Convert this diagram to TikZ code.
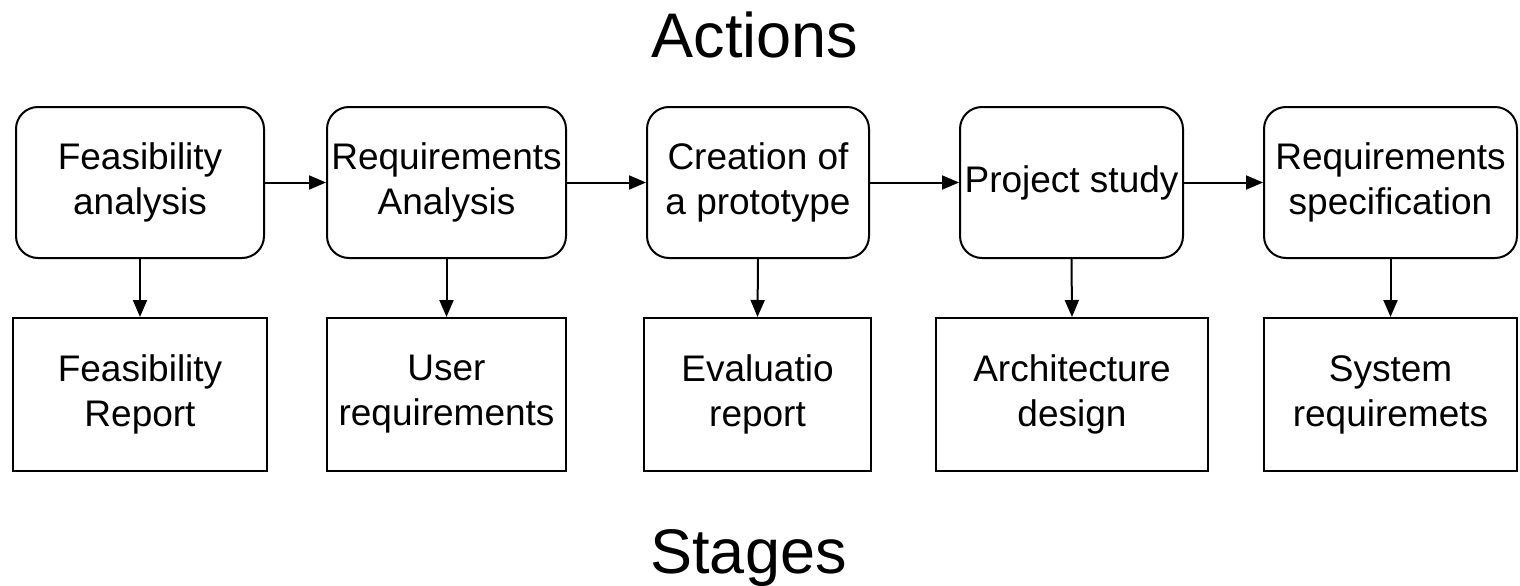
\documentclass[tikz,border=0pt]{standalone}
\usepackage{fontspec}
\setmainfont{Liberation Sans}
\usetikzlibrary{arrows.meta}
\begin{document}
\begin{tikzpicture}[x=1pt,y=-1pt,
  action/.style={draw, line width=2pt, rounded corners=22pt, minimum height=151pt, inner sep=0pt, align=center, font=\fontsize{37}{45}\selectfont},
  stagebox/.style={draw, line width=2pt, minimum height=153pt, inner sep=0pt, align=center, font=\fontsize{37}{45}\selectfont},
  arr/.style={line width=2pt, -{Triangle[length=17pt,width=14pt]}},
  titletext/.style={anchor=base, inner sep=0pt, font=\fontsize{63}{70}\selectfont}]
\useasboundingbox (0,0) rectangle (1520,586);
\node[titletext] (actions) at (755,58) {Actions};
\node[titletext] (stages) at (748.5,573) {Stages};

\node[action, minimum width=248pt] (a1) at (140,182.5) {Feasibility\\analysis};
\node[action, minimum width=239pt] (a2) at (446.5,182.5) {Requirements\\Analysis};
\node[action, minimum width=222pt] (a3) at (758,182.5) {Creation of\\a prototype};
\node[action, minimum width=223pt] (a4) at (1071.5,182.5) {Project study};
\node[action, minimum width=253pt] (a5) at (1390.5,182.5) {Requirements\\specification};

\node[stagebox, minimum width=254pt] (s1) at (140,394.5) {Feasibility\\Report};
\node[stagebox, minimum width=239pt] (s2) at (446.5,394.5) {User\\requirements};
\node[stagebox, minimum width=227pt] (s3) at (757.5,394.5) {Evaluatio\\report};
\node[stagebox, minimum width=272pt] (s4) at (1072,394.5) {Architecture\\design};
\node[stagebox, minimum width=253pt] (s5) at (1390.5,394.5) {System\\requiremets};

\draw[arr] (a1.east) -- (a2.west);
\draw[arr] (a2.east) -- (a3.west);
\draw[arr] (a3.east) -- (a4.west);
\draw[arr] (a4.east) -- (a5.west);

\draw[arr] (a1.south) -- (s1.north);
\draw[arr] (a2.south) -- (s2.north);
\draw[arr] (a3.south) -- (s3.north);
\draw[arr] (a4.south) -- (s4.north);
\draw[arr] (a5.south) -- (s5.north);
\end{tikzpicture}
\end{document}
